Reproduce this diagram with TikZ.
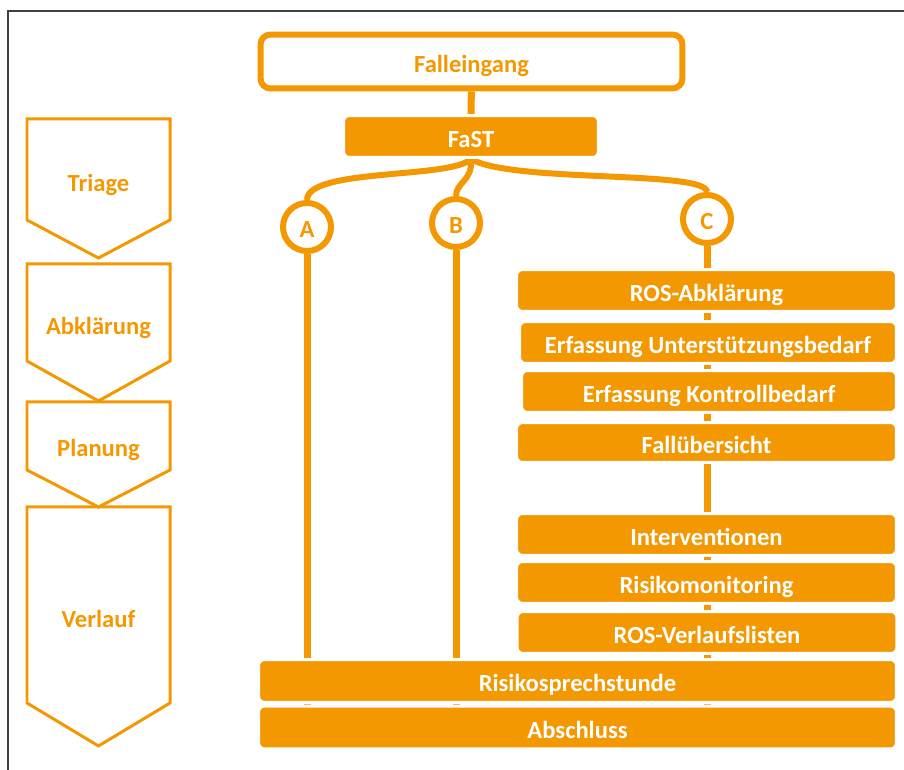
\documentclass[tikz,border=0pt]{standalone}
\usepackage{fontspec}
\setmainfont{Carlito}
\usetikzlibrary{backgrounds}
\definecolor{fastorange}{RGB}{243,152,0}

\begin{document}
\begin{tikzpicture}[
  x=0.02cm, y=-0.02cm,
  every node/.style={font=\fontsize{14}{16}\selectfont\bfseries, inner sep=0pt,
    text height=12.2pt, text depth=0pt},
  taskbox/.style={fill=fastorange, draw=white, line width=0.06cm, rounded corners=0.12cm,
    text=white, minimum width=7.6cm, minimum height=0.84cm},
  widebox/.style={taskbox, minimum width=12.76cm, minimum height=0.86cm},
  phase/.style={draw=fastorange, line width=0.06cm},
  track/.style={draw=fastorange, line width=0.14cm},
  pick/.style={circle, draw=fastorange, fill=white, line width=0.12cm,
    minimum size=0.96cm, text=fastorange}
]
  \useasboundingbox (0,0) rectangle (904,770);
  \draw[black!75, line width=0.03cm] (8,770) -- (8,11) -- (904,11);

  % phases on the left
  \foreach \ytop/\yside/\ytip/\ylab/\txt [count=\i] in
    {119/220/258/181/Triage, 264/361/401/324/Abklärung,
     402/470/507/446/Planung, 507/703/746/617/Verlauf}{
    \draw[phase] (27,\ytop) -- (170,\ytop) -- (170,\yside) -- (98.5,\ytip)
      -- (27,\yside) -- cycle;
    \node[text=fastorange] (phase\i) at (98.5,\ylab) {\txt};
  }

  \node[draw=fastorange, line width=0.12cm, rounded corners=0.2cm, minimum width=8.44cm,
    minimum height=1.08cm, text=fastorange] (fall) at (471.5,61.5) {Falleingang};
  \node[taskbox, minimum width=5.1cm] (fast) at (471,136.5) {FaST};

  \node[pick] (A) at (307,227) {A};
  \node[pick] (B) at (456,223) {B};
  \node[pick] (C) at (707,219) {C};

  % path C
  \node[taskbox] (ros) at (706.5,290.5) {ROS-Abklärung};
  \node[taskbox, minimum width=7.54cm] (need) at (708,342.5) {Erfassung Unterstützungsbedarf};
  \node[taskbox, minimum width=7.5cm] (ctrl) at (709,391.5) {Erfassung Kontrollbedarf};
  \node[taskbox, minimum height=0.8cm] (overview) at (706.5,442.5) {Fallübersicht};
  \node[taskbox] (interv) at (706.5,534.5) {Interventionen};
  \node[taskbox] (monitor) at (706.5,582.5) {Risikomonitoring};
  \node[taskbox] (lists) at (707,632.5) {ROS-Verlaufslisten};

  \node[widebox] (consult) at (577.5,681) {Risikosprechstunde};
  \node[widebox] (close) at (577.5,727.5) {Abschluss};

  \begin{scope}[on background layer]
    \draw[track] (fall) -- (fast);
    \draw[track, line width=0.12cm] (fast.south) .. controls +(-20,20) and +(0,-32) .. (A.north);
    \draw[track, line width=0.12cm] (fast.south) .. controls +(2,22) and +(0,-14) .. (B.north);
    \draw[track, line width=0.12cm] (fast.south) .. controls +(40,24) and +(0,-22) .. (C.north);
    \foreach \p in {A,B,C}
      \draw[track] (\p.south) -- (\p |- close.center);
  \end{scope}
\end{tikzpicture}
\end{document}
